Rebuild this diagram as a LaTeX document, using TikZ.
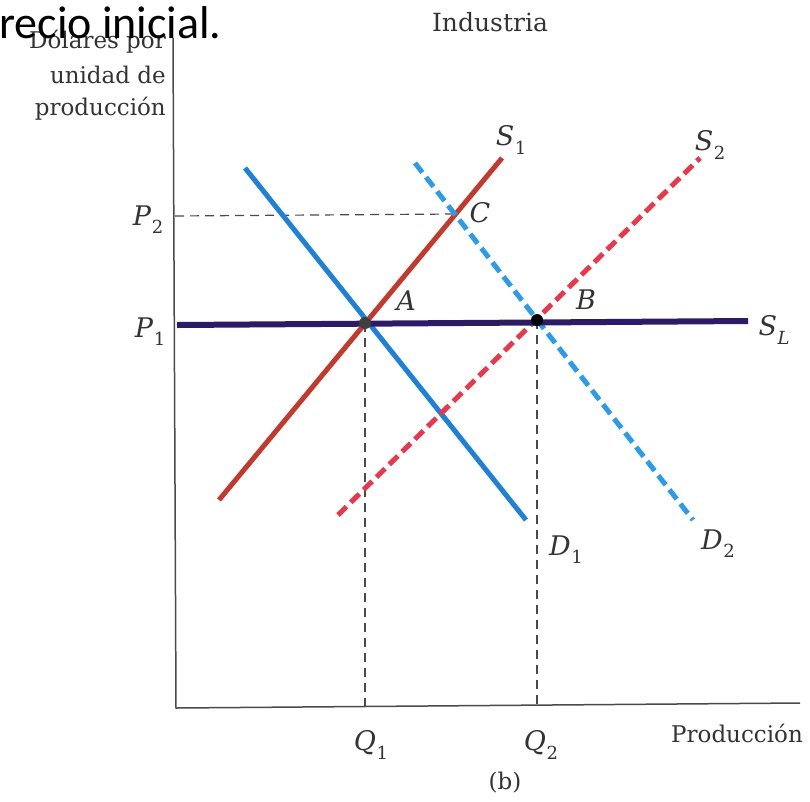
\documentclass[tikz,border=0pt]{standalone}
\usepackage{fontspec}
\setmainfont{DejaVu Serif}
\newfontfamily\slidefont{Carlito}
\definecolor{brickred}{HTML}{C23A2E}
\definecolor{pinkred}{HTML}{E8384C}
\definecolor{dblue}{HTML}{1F80DA}
\definecolor{lblue}{HTML}{2C9BEA}
\definecolor{navy}{HTML}{2E1B66}
\definecolor{axisgray}{HTML}{4A4A4A}
\definecolor{textgray}{HTML}{333333}
\newcommand\sublab[2]{\textit{#1}\kern0.5pt\raisebox{-0.3em}{\fontsize{18}{18}\selectfont #2}}
\tikzset{
  axisline/.style={draw=axisgray, line width=1.5pt},
  guide/.style={draw=axisgray, line width=1.2pt, dash pattern=on 9pt off 6pt},
  curve/.style={line width=5pt},
  dcurve/.style={line width=5pt, dash pattern=on 12pt off 6pt},
  lbl/.style={inner sep=0pt, text=textgray, font=\fontsize{27}{32}\selectfont},
  ttl/.style={inner sep=0pt, text=textgray, font=\fontsize{23}{28}\selectfont},
  dot/.style={circle, inner sep=0pt, minimum size=12pt}
}
\begin{document}
\begin{tikzpicture}[x=1pt,y=-1pt]
\useasboundingbox (0,0) rectangle (810,801);
% coordinates
\coordinate (ytop) at (173,38);
\coordinate (O) at (176,708);
\coordinate (xend) at (800,703);
\coordinate (SLa) at (177,325);
\coordinate (SLb) at (748,321);
\coordinate (S1a) at (219,500);
\coordinate (S1b) at (502,158);
\coordinate (D1a) at (245,168);
\coordinate (D1b) at (526,520);
\coordinate (S2a) at (338,515);
\coordinate (S2b) at (700,158);
\coordinate (D2a) at (415,163);
\coordinate (D2b) at (693,520);
\coordinate (P2a) at (175,216);
\coordinate (Cpt) at (455,214);
\coordinate (Q1b) at (365,708);
\coordinate (Q2b) at (537,706);
% axes
\draw[axisline] (ytop) -- (O) -- (xend);
% guides
\node[dot] (A) at (365,323) {};
\node[dot] (B) at (537,320) {};
\draw[guide] (P2a) -- (Cpt);
\draw[guide] (A.center) -- (Q1b);
\draw[guide] (B.center) -- (Q2b);
% curves
\draw[curve, draw=brickred] (S1a) -- (S1b);
\draw[curve, draw=dblue] (D1a) -- (D1b);
\draw[dcurve, draw=lblue] (D2a) -- (D2b);
\draw[dcurve, draw=pinkred] (S2a) -- (S2b);
\draw[line width=6pt, draw=navy] (SLa) -- (SLb);
\node[dot, fill=black!75] at (A) {};
\node[dot, fill=black] at (B) {};
% labels
\node[lbl] (lS1) at (511,140) {\sublab{S}{1}};
\node[lbl] (lS2) at (710,145) {\sublab{S}{2}};
\node[lbl] (lC) at (480,213) {\textit{C}};
\node[lbl] (lA) at (406,301) {\textit{A}};
\node[lbl] (lB) at (586,300) {\textit{B}};
\node[lbl] (lSL) at (774,330) {\sublab{S}{\textit{L}}};
\node[lbl] (lD1) at (566,550) {\sublab{D}{1}};
\node[lbl] (lD2) at (718,544) {\sublab{D}{2}};
\node[lbl] (lP2) at (148,220) {\sublab{P}{2}};
\node[lbl] (lP1) at (150,332) {\sublab{P}{1}};
\node[lbl] (lQ1) at (371,745) {\sublab{Q}{1}};
\node[lbl] (lQ2) at (541,745) {\sublab{Q}{2}};
\node[ttl] (prod) at (737,733) {Producción};
\node[ttl] (b) at (505,783) {(b)};
\node[ttl, font=\fontsize{25}{30}\selectfont] (ind) at (490,22) {Industria};
\node[ttl, anchor=base east] (ylab1) at (166,48) {Dólares por};
\node[ttl, anchor=base east] (ylab2) at (166,83) {unidad de};
\node[ttl, anchor=base east] (ylab3) at (166,115) {producción};
\node[inner sep=0pt, anchor=base west, font=\slidefont\fontsize{46}{52}\selectfont] (slide) at (-1,38) {recio inicial.};
\end{tikzpicture}
\end{document}
